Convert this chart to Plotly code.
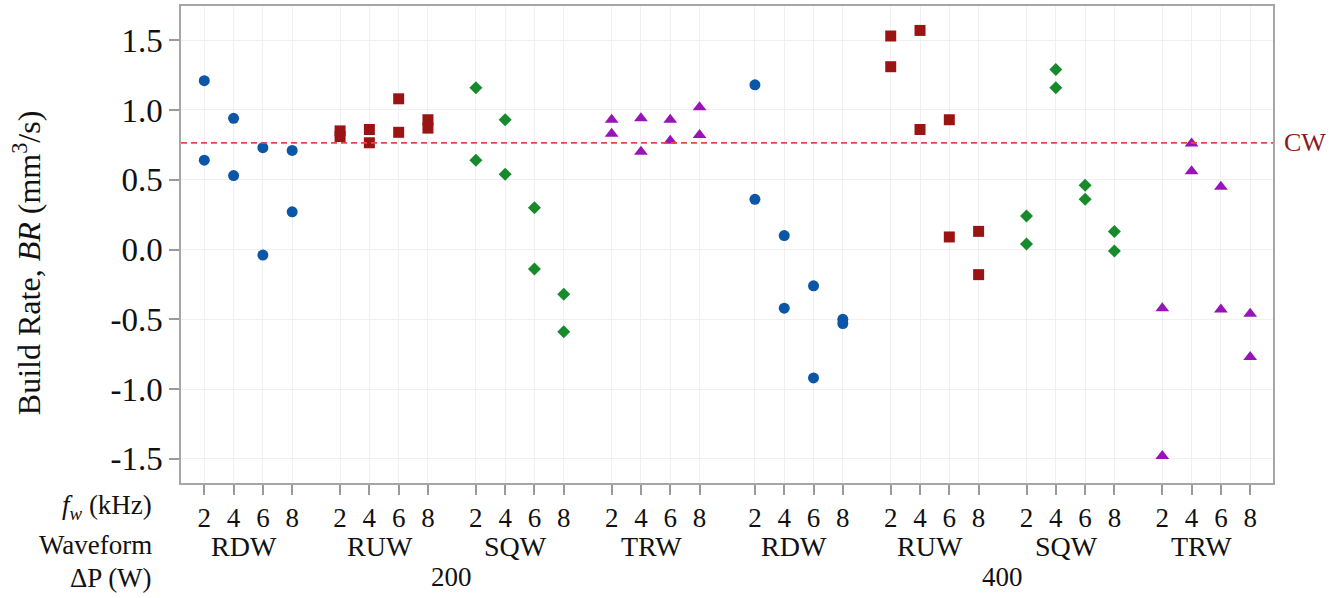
import plotly.graph_objects as go

# Build rate (mm^3/s) per waveform and power step; each inner pair is the two
# replicate runs at f_w = 2, 4, 6, 8 kHz.
freqs = [2, 4, 6, 8]
waveforms = ["RDW", "RUW", "SQW", "TRW"]
power_steps = [200, 400]

rdw_200 = [[1.21, 0.64], [0.94, 0.53], [0.73, -0.04], [0.71, 0.27]]
ruw_200 = [[0.85, 0.81], [0.86, 0.765], [1.08, 0.84], [0.93, 0.87]]
sqw_200 = [[1.16, 0.64], [0.93, 0.54], [0.30, -0.14], [-0.32, -0.59]]
trw_200 = [[0.93, 0.83], [0.94, 0.70], [0.93, 0.78], [1.02, 0.82]]

rdw_400 = [[1.18, 0.36], [0.10, -0.42], [-0.26, -0.92], [-0.50, -0.53]]
ruw_400 = [[1.53, 1.31], [1.57, 0.86], [0.93, 0.09], [0.13, -0.18]]
sqw_400 = [[0.24, 0.04], [1.29, 1.16], [0.46, 0.36], [0.13, -0.01]]
trw_400 = [[-0.42, -1.48], [0.76, 0.56], [0.45, -0.43], [-0.46, -0.77]]

cw_rate = 0.764

y_ticks = [-1.5, -1.0, -0.5, 0.0, 0.5, 1.0, 1.5]
y_tick_text = ["-1.5", "-1.0", "-0.5", "0.0", "0.5", "1.0", "1.5"]

series = {
    "RDW": [rdw_200, rdw_400],
    "RUW": [ruw_200, ruw_400],
    "SQW": [sqw_200, sqw_400],
    "TRW": [trw_200, trw_400],
}

styles = {
    "RDW": dict(symbol="circle", color="#0B56A6", size=11),
    "RUW": dict(symbol="square", color="#9A1414", size=11),
    "SQW": dict(symbol="diamond", color="#178A2C", size=10),
    "TRW": dict(symbol="triangle-up", color="#9814B8", size=12),
}

# Layout of the categorical axis: unit step between frequencies,
# group pitch and a small extra gap between the two power steps.
GROUP_PITCH = 4.635
POWER_GAP = 0.256


def x_pos(p_idx, w_idx, f_idx):
    k = p_idx * len(waveforms) + w_idx
    return k * GROUP_PITCH + p_idx * POWER_GAP + f_idx


FONT = "Liberation Serif, Times New Roman, serif"

fig = go.Figure()

for w_idx, wf in enumerate(waveforms):
    xs, ys = [], []
    for p_idx, _ in enumerate(power_steps):
        for f_idx, reps in enumerate(series[wf][p_idx]):
            for v in reps:
                xs.append(x_pos(p_idx, w_idx, f_idx))
                ys.append(v)
    st = styles[wf]
    fig.add_trace(go.Scatter(
        x=xs, y=ys, mode="markers", name=wf, showlegend=False,
        marker=dict(symbol=st["symbol"], color=st["color"], size=st["size"],
                    line=dict(width=0)),
    ))

tick_vals, tick_text = [], []
for p_idx, _ in enumerate(power_steps):
    for w_idx, _ in enumerate(waveforms):
        for f_idx, f in enumerate(freqs):
            tick_vals.append(x_pos(p_idx, w_idx, f_idx))
            tick_text.append(str(f))

# CW reference line
fig.add_shape(type="line", xref="paper", x0=0, x1=1, yref="y",
              y0=cw_rate, y1=cw_rate,
              line=dict(color="#E5474F", width=1.6, dash="6px,4px"))
fig.add_annotation(xref="paper", x=1.008, yref="y", y=cw_rate, text="CW",
                   showarrow=False, xanchor="left", yanchor="middle",
                   font=dict(family=FONT, size=26, color="#8B1A1A"))

# waveform labels under each group, power step labels under each half
for p_idx, p in enumerate(power_steps):
    for w_idx, wf in enumerate(waveforms):
        xc = (x_pos(p_idx, w_idx, 0) + x_pos(p_idx, w_idx, 3)) / 2
        fig.add_annotation(xref="x", x=xc - 0.15, yref="paper", y=-0.1336,
                           text=wf, showarrow=False, xanchor="center",
                           yanchor="middle",
                           font=dict(family=FONT, size=28, color="#111111"))
    xc = (x_pos(p_idx, 0, 0) + x_pos(p_idx, 3, 3)) / 2
    fig.add_annotation(xref="x", x=xc, yref="paper", y=-0.1962,
                       text=str(p), showarrow=False, xanchor="center",
                       yanchor="middle",
                       font=dict(family=FONT, size=27, color="#111111"))

# row headers on the left
row_headers = [
    ("<i>f</i><sub><i>w</i></sub> (kHz)", -0.0501),
    ("Waveform", -0.1294),
    ("\u0394P (W)", -0.1983),
]
for txt, yy in row_headers:
    fig.add_annotation(xref="paper", x=-0.0245, yref="paper", y=yy,
                       text=txt, showarrow=False, xanchor="right",
                       yanchor="middle",
                       font=dict(family=FONT, size=27, color="#111111"))

# y-axis title
fig.add_annotation(xref="paper", x=-0.141, yref="paper", y=0.461,
                   text="Build Rate, <i>BR</i> (mm<sup>3</sup>/s)",
                   textangle=-90, showarrow=False, xanchor="center",
                   yanchor="middle",
                   font=dict(family=FONT, size=32, color="#111111"))

fig.update_layout(
    width=1338, height=598,
    margin=dict(l=181, r=65, t=4, b=115),
    paper_bgcolor="white", plot_bgcolor="white",
    font=dict(family=FONT, color="#111111"),
    xaxis=dict(
        range=[-0.795, 36.48], tickmode="array", tickvals=tick_vals,
        ticktext=tick_text, ticks="outside", ticklen=10, tickwidth=1.5,
        tickcolor="#9A9A9A", showgrid=True, gridcolor="#F0F0F0",
        gridwidth=1, zeroline=False, showline=True, linecolor="#A6A6A6",
        linewidth=1.5, mirror=True,
        tickfont=dict(family=FONT, size=27, color="#111111"),
    ),
    yaxis=dict(
        range=[-1.673, 1.745], tickmode="array", tickvals=y_ticks,
        ticktext=y_tick_text, ticks="outside", ticklen=10, tickwidth=1.5,
        tickcolor="#9A9A9A", showgrid=True, gridcolor="#F0F0F0",
        gridwidth=1, zeroline=False, showline=True, linecolor="#A6A6A6",
        linewidth=1.5, mirror=True,
        tickfont=dict(family=FONT, size=33, color="#111111"),
    ),
)

fig.write_html("out.html")
